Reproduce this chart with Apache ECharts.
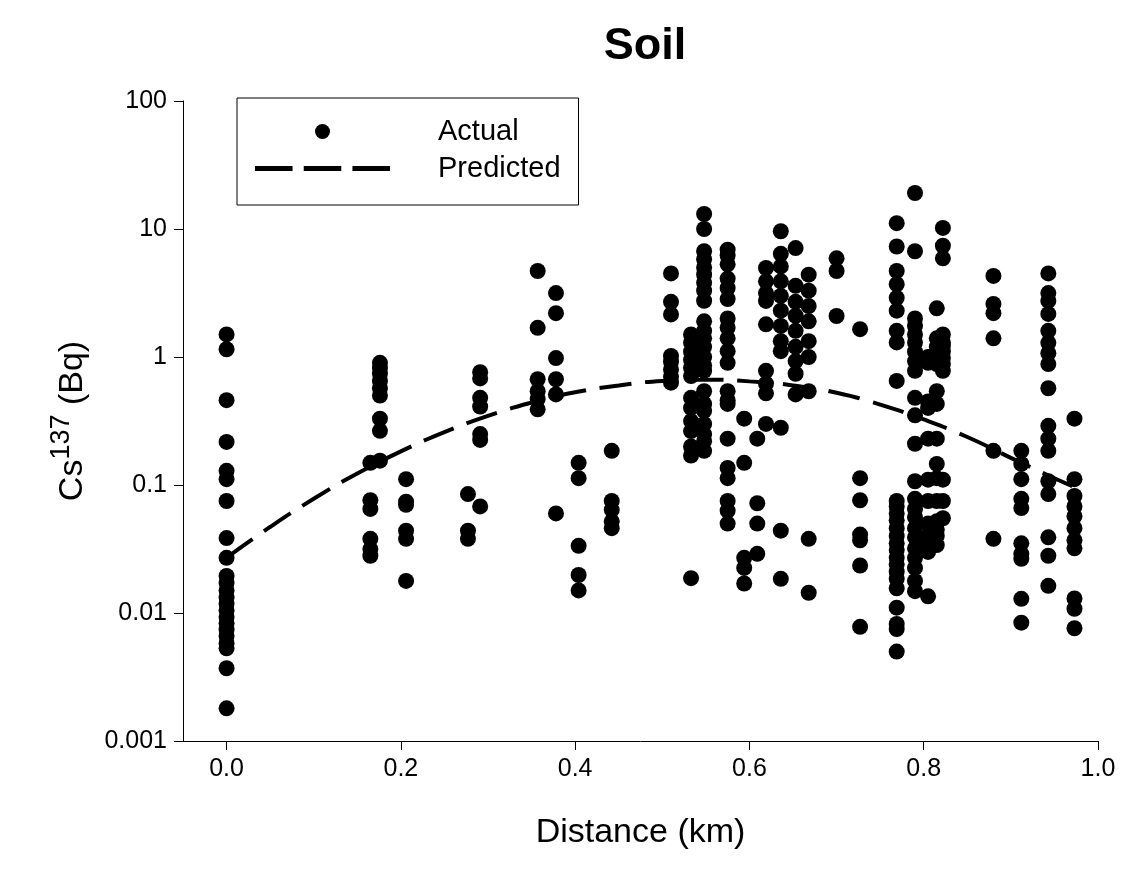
<!DOCTYPE html>
<html>
<head>
<meta charset="utf-8">
<script src="https://cdn.jsdelivr.net/npm/echarts@6/dist/echarts.min.js"></script>
<style>
html,body{margin:0;padding:0;background:#fff;}
#chart{width:1128px;height:869px;}
</style>
</head>
<body>
<div id="chart"></div>
<script>
// Measured distances (km) of each sample column
const actualDist = [0.0, 0.165, 0.176, 0.206, 0.277, 0.291, 0.357, 0.378, 0.404, 0.442,
  0.51, 0.533, 0.548, 0.575, 0.594, 0.609, 0.619, 0.636, 0.653, 0.668,
  0.70, 0.727, 0.769, 0.79, 0.805, 0.815, 0.822, 0.88, 0.912, 0.943, 0.973];
// Cs137 activity (Bq) of the samples in each column
const actualCs = [
  [1.5, 1.15, 0.46, 0.217, 0.129, 0.111, 0.075, 0.0385, 0.027, 0.0195, 0.0172, 0.015, 0.0132, 0.0118, 0.0105, 0.0093, 0.0083, 0.0074, 0.0066, 0.0058, 0.0053, 0.0037, 0.0018],
  [0.149, 0.076, 0.065, 0.038, 0.0316, 0.028],
  [0.9, 0.82, 0.74, 0.65, 0.57, 0.5, 0.33, 0.265, 0.155],
  [0.111, 0.074, 0.07, 0.044, 0.038, 0.0178],
  [0.085, 0.044, 0.038],
  [0.76, 0.68, 0.48, 0.41, 0.25, 0.225, 0.068],
  [4.7, 1.69, 0.67, 0.54, 0.47, 0.39],
  [3.16, 2.2, 0.98, 0.67, 0.51, 0.06],
  [0.149, 0.113, 0.0335, 0.0198, 0.015],
  [0.185, 0.075, 0.064, 0.052, 0.046],
  [4.5, 2.7, 2.15, 1.02, 0.92, 0.8, 0.7, 0.63],
  [1.5, 1.3, 1.1, 0.95, 0.82, 0.71, 0.48, 0.40, 0.316, 0.264, 0.2, 0.17, 0.0187],
  [13.1, 10, 6.7, 5.8, 5.0, 4.4, 3.8, 3.3, 2.75, 1.9, 1.6, 1.4, 1.2, 1.0, 0.86, 0.78, 0.54, 0.43, 0.38, 0.3, 0.25, 0.22, 0.185],
  [6.9, 6.2, 5.3, 4.1, 3.46, 2.84, 2.0, 1.7, 1.4, 1.11, 0.9, 0.54, 0.46, 0.43, 0.23, 0.136, 0.113, 0.075, 0.063, 0.05],
  [0.33, 0.149, 0.027, 0.0225, 0.017],
  [0.23, 0.072, 0.05, 0.029],
  [4.96, 3.9, 3.16, 2.74, 1.8, 0.78, 0.62, 0.52, 0.3],
  [9.6, 6.4, 5.1, 3.9, 3.0, 2.3, 1.75, 1.33, 1.11, 0.28, 0.044, 0.0185],
  [7.1, 3.6, 2.7, 2.1, 1.6, 1.2, 0.93, 0.74, 0.51],
  [4.4, 3.3, 2.5, 1.9, 1.33, 1.0, 0.54, 0.038, 0.0144],
  [5.9, 4.7, 2.09],
  [1.65, 0.113, 0.076, 0.041, 0.037, 0.0235, 0.0078],
  [11.1, 7.3, 4.7, 3.7, 2.9, 2.3, 1.6, 1.3, 0.65, 0.075, 0.068, 0.06, 0.053, 0.046, 0.04, 0.035, 0.031, 0.027, 0.024, 0.021, 0.0185, 0.0156, 0.011, 0.0082, 0.0075, 0.005],
  [19.1, 6.7, 2.0, 1.75, 1.5, 1.3, 1.1, 0.93, 0.78, 0.48, 0.35, 0.21, 0.107, 0.078, 0.065, 0.056, 0.046, 0.039, 0.032, 0.027, 0.0225, 0.0178, 0.0148],
  [1.0, 0.9, 0.45, 0.4, 0.23, 0.11, 0.075, 0.05, 0.04, 0.035, 0.03, 0.0135],
  [2.4, 1.4, 1.2, 1.0, 0.88, 0.54, 0.43, 0.23, 0.146, 0.113, 0.075, 0.052, 0.045, 0.04, 0.034],
  [10.2, 7.4, 5.9, 1.5, 1.3, 1.22, 1.1, 0.98, 0.88, 0.78, 0.11, 0.075, 0.055],
  [4.3, 2.6, 2.2, 1.4, 0.185, 0.038],
  [0.185, 0.146, 0.111, 0.078, 0.066, 0.035, 0.029, 0.0265, 0.0129, 0.0084],
  [4.5, 3.16, 2.74, 2.17, 1.6, 1.29, 1.07, 0.88, 0.57, 0.29, 0.23, 0.185, 0.107, 0.085, 0.039, 0.028, 0.0163],
  [0.33, 0.111, 0.082, 0.068, 0.057, 0.046, 0.037, 0.032, 0.013, 0.0108, 0.0076]
];
// Predicted curve
const predDist = [0, 0.05, 0.1, 0.15, 0.2, 0.25, 0.3, 0.35, 0.4, 0.45, 0.5, 0.55, 0.6, 0.65, 0.7, 0.75, 0.8, 0.85, 0.9, 0.95, 0.975];
const predCs = [0.027, 0.047, 0.078, 0.123, 0.183, 0.259, 0.347, 0.44, 0.53, 0.6, 0.65, 0.665, 0.645, 0.6, 0.525, 0.425, 0.325, 0.237, 0.163, 0.113, 0.095];
const xTicks = [0, 0.2, 0.4, 0.6, 0.8, 1.0];
const xTickLabels = ['0.0', '0.2', '0.4', '0.6', '0.8', '1.0'];
const yTickLabels = {0.001: '0.001', 0.01: '0.01', 0.1: '0.1', 1: '1', 10: '10', 100: '100'};

const actualPoints = [];
actualDist.forEach((d, i) => actualCs[i].forEach(v => actualPoints.push([d, v])));
const predPoints = predDist.map((d, i) => [d, predCs[i]]);

const FONT = 'Liberation Sans, Arial, sans-serif';
const chart = echarts.init(document.getElementById('chart'), null, {renderer: 'canvas'});
chart.setOption({
  backgroundColor: '#fff',
  animation: false,
  title: {
    text: 'Soil', left: 640, textAlign: 'center', top: 19,
    textStyle: {fontFamily: FONT, fontWeight: 'bold', fontSize: 45, color: '#000'}
  },
  grid: {left: 183, right: 30, top: 101, bottom: 128, containLabel: false},
  legend: {
    left: 237, top: 98, orient: 'vertical',
    padding: [19, 18, 22, 18],
    borderColor: '#000', borderWidth: 1,
    itemWidth: 135, itemHeight: 15, itemGap: 8,
    textStyle: {fontFamily: FONT, fontSize: 29, color: '#000', padding: [0, 0, 0, 43]},
    data: [
      {name: 'Actual', icon: 'circle'},
      {name: 'Predicted', icon: 'path://M0,0h37v5h-37z M48,0h37v5h-37z M96,0h37v5h-37z'}
    ]
  },
  xAxis: {
    type: 'value', min: -0.05, max: 1.0,
    name: 'Distance (km)', nameLocation: 'middle', nameGap: 75,
    nameTextStyle: {fontFamily: FONT, fontSize: 34, color: '#000'},
    axisLine: {show: true, onZero: false, lineStyle: {color: '#000', width: 1}},
    axisTick: {show: true, length: 9, customValues: xTicks, lineStyle: {color: '#000'}},
    axisLabel: {
      customValues: xTicks, margin: 16,
      fontFamily: FONT, fontSize: 25, color: '#000',
      formatter: v => xTickLabels[xTicks.indexOf(Math.round(v * 10) / 10)]
    },
    splitLine: {show: false}
  },
  yAxis: {
    type: 'log', logBase: 10, min: 0.001, max: 100,
    name: '{n|Cs}{s|137}{n| (Bq)}', nameLocation: 'middle', nameGap: 86, nameRotate: 90,
    nameTextStyle: {
      fontFamily: FONT, color: '#000',
      rich: {
        n: {fontFamily: FONT, fontSize: 34, color: '#000'},
        s: {fontFamily: FONT, fontSize: 27, color: '#000', padding: [0, 0, 22, 0]}
      }
    },
    axisLine: {show: true, onZero: false, lineStyle: {color: '#000', width: 1}},
    axisTick: {show: true, length: 9, lineStyle: {color: '#000'}},
    axisLabel: {
      margin: 16, fontFamily: FONT, fontSize: 25, color: '#000',
      formatter: v => {
        const k = Number(v.toPrecision(1));
        return yTickLabels[k] !== undefined ? yTickLabels[k] : '';
      }
    },
    splitLine: {show: false},
    minorTick: {show: false}
  },
  series: [
    {
      name: 'Actual', type: 'scatter', data: actualPoints,
      symbol: 'circle', symbolSize: 16,
      itemStyle: {color: '#000', opacity: 1}, z: 3
    },
    {
      name: 'Predicted', type: 'line', data: predPoints,
      showSymbol: false, symbol: 'none', smooth: true,
      lineStyle: {color: '#000', width: 4, type: [32, 14]},
      itemStyle: {color: '#000'}, z: 4
    }
  ]
});
</script>
</body>
</html>
